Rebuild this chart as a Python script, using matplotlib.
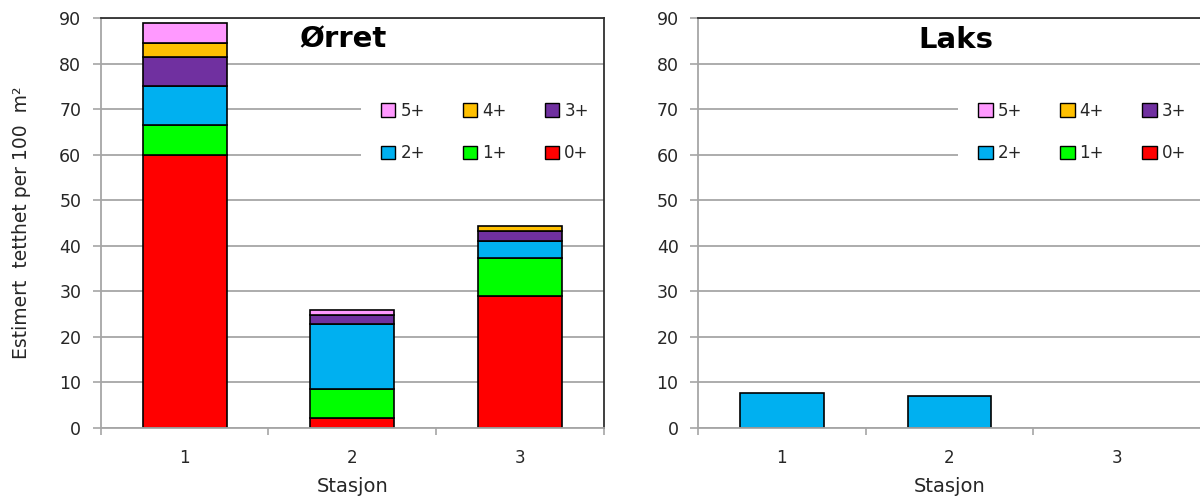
import numpy as np
import matplotlib
matplotlib.use("Agg")
import matplotlib.pyplot as plt
from matplotlib.patches import Patch

# data
stations = ["1", "2", "3"]
age_groups = ["0+", "1+", "2+", "3+", "4+", "5+"]
colors = ["#FF0000", "#00FF00", "#00B0F0", "#7030A0", "#FFC000", "#FF99FF"]

orret_0 = [60.0, 2.3, 29.0]
orret_1 = [6.5, 6.3, 8.3]
orret_2 = [8.5, 14.2, 3.8]
orret_3 = [6.5, 2.1, 2.2]
orret_4 = [3.0, 0.0, 1.0]
orret_5 = [4.5, 1.0, 0.0]

laks_0 = [0.0, 0.0, 0.0]
laks_1 = [0.0, 0.0, 0.0]
laks_2 = [7.7, 7.0, 0.0]
laks_3 = [0.0, 0.0, 0.0]
laks_4 = [0.0, 0.0, 0.0]
laks_5 = [0.0, 0.0, 0.0]

plt.rcParams['font.family'] = ['DejaVu Sans']
grid_col = "#A6A6A6"
text_col = "#262626"


def draw_panel(ax, title, title_x, series):
    x = np.arange(1, len(stations) + 1)
    bottom = np.zeros(len(stations))
    for vals, col in zip(series, colors):
        vals = np.array(vals)
        # skip outlines on empty segments
        edges = ["black" if v > 0 else "none" for v in vals]
        ax.bar(x, vals, width=0.5, bottom=bottom, color=col,
               edgecolor=edges, linewidth=1.2, zorder=3)
        bottom += vals

    ax.set_xlim(0.5, 3.5)
    ax.set_ylim(0, 90)
    ax.set_yticks(range(0, 91, 10))
    ax.set_xticks(x)
    ax.set_xticklabels(stations)
    ax.set_xticks([0.5, 1.5, 2.5, 3.5], minor=True)
    ax.tick_params(axis="x", which="major", length=0, pad=15,
                   labelsize=12, labelcolor=text_col)
    ax.tick_params(axis="x", which="minor", length=5, width=1.2, color=grid_col)
    ax.tick_params(axis="y", length=6, width=1.2, color=grid_col, pad=8,
                   labelsize=12.5, labelcolor=text_col)
    ax.grid(axis="y", color=grid_col, linewidth=1.3, zorder=0)
    ax.set_axisbelow(True)
    for side in ["left", "bottom"]:
        ax.spines[side].set_color(grid_col)
        ax.spines[side].set_linewidth(1.3)
    for side in ["top", "right"]:
        ax.spines[side].set_color("#303030")
        ax.spines[side].set_linewidth(1.3)
    for sp in ax.spines.values():
        sp.set_zorder(6)

    ax.set_xlabel("Stasjon", fontsize=14, color=text_col, labelpad=7)
    ax.text(title_x, 0.947, title, transform=ax.transAxes, ha="center",
            va="center", fontsize=21, fontweight="bold", zorder=5)

    handles = [Patch(facecolor=c, edgecolor="black", linewidth=1.0) for c in colors]
    # row-wise order: 5+ 4+ 3+ / 2+ 1+ 0+
    order = [5, 2, 4, 1, 3, 0]
    leg = ax.legend([handles[i] for i in order], [age_groups[i] for i in order],
                    ncol=3, loc="center", bbox_to_anchor=(0.764, 0.722),
                    fontsize=12, frameon=True, framealpha=1, edgecolor="none",
                    facecolor="white", fancybox=False, handlelength=0.85,
                    handleheight=0.85, handletextpad=0.3, columnspacing=2.3,
                    labelspacing=1.45, borderpad=1.2, borderaxespad=0)
    for t in leg.get_texts():
        t.set_color(text_col)
    leg.set_zorder(4)


fig = plt.figure(figsize=(12, 4.99), dpi=100)
ax1 = fig.add_axes([0.084, 0.1423, 0.419, 0.8217])
ax2 = fig.add_axes([0.5817, 0.1423, 0.419, 0.8217])

draw_panel(ax1, "Ørret", 0.481, [orret_0, orret_1, orret_2, orret_3, orret_4, orret_5])
draw_panel(ax2, "Laks", 0.513, [laks_0, laks_1, laks_2, laks_3, laks_4, laks_5])

ax1.set_ylabel("Estimert  tetthet per 100  m²", fontsize=13.5, color=text_col,
               labelpad=20)

fig.savefig("out.png", dpi=100)
